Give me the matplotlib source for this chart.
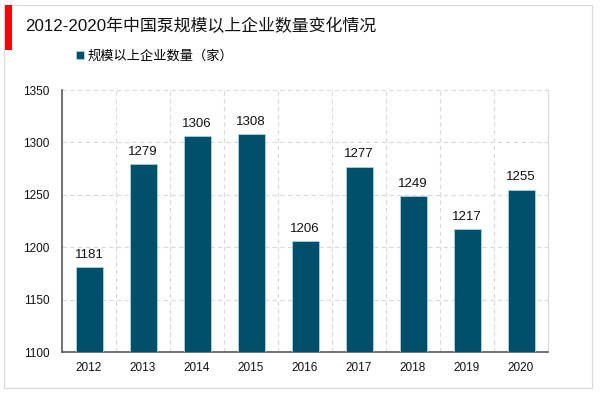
import matplotlib.pyplot as plt
from matplotlib.patches import Rectangle

plt.rcParams['font.family'] = ['Liberation Sans', 'Noto Sans CJK SC', 'DejaVu Sans']

years = ['2012', '2013', '2014', '2015', '2016', '2017', '2018', '2019', '2020']
counts = [1181, 1279, 1306, 1308, 1206, 1277, 1249, 1217, 1255]
title = '2012-2020年中国泵规模以上企业数量变化情况'
series_name = '规模以上企业数量（家）'

fig = plt.figure(figsize=(6, 3.93), dpi=100)
W, H = 600, 393

# outer frame and red accent
fig.patches.append(Rectangle((4 / W, 5 / H), 588 / W, 383 / H, transform=fig.transFigure,
                             fill=False, edgecolor='#d9d9d9', linewidth=0.8))
fig.patches.append(Rectangle((5 / W, 1 - 50 / H), 7 / W, 45 / H, transform=fig.transFigure,
                             facecolor='#ff0000', edgecolor='none'))
fig.text(25 / W, 1 - 26 / H, title, fontsize=12.2, va='center', ha='left', color='#111111',
         family=['Liberation Sans', 'Noto Sans CJK SC'])

ax = fig.add_axes([62 / W, 1 - 352 / H, 486 / W, 262 / H])
x = range(len(years))
bars = ax.bar(x, counts, width=0.5, color='#00506b', edgecolor='#a8d4dc', linewidth=0.6,
              label=series_name, zorder=3)
for i, v in zip(x, counts):
    ax.text(i, v + 6, str(v), ha='center', va='bottom', fontsize=9.5, color='#111111')

ax.set_ylim(1100, 1350)
ax.set_yticks([1100, 1150, 1200, 1250, 1300, 1350])
ax.set_xlim(-0.5, len(years) - 0.5)
ax.set_xticks(list(x))
ax.set_xticklabels(years)
ax.tick_params(axis='both', length=0, labelsize=8.5, colors='#111111')
ax.tick_params(axis='x', pad=7)
ax.tick_params(axis='y', pad=9)

ax.set_axisbelow(True)
ax.grid(axis='y', linestyle=(0, (4, 3)), color='#d9d9d9', linewidth=0.8)
for b in [i + 0.5 for i in range(len(years) - 1)]:
    ax.axvline(b, linestyle=(0, (4, 3)), color='#d9d9d9', linewidth=0.8, zorder=0)

ax.spines['top'].set_visible(False)
ax.spines['right'].set_color('#d9d9d9')
ax.spines['right'].set_linewidth(0.8)
ax.spines['left'].set_color('#595959')
ax.spines['bottom'].set_color('#595959')
ax.spines['left'].set_linewidth(1.2)
ax.spines['bottom'].set_linewidth(1.2)

fig.legend(handles=[bars], labels=[series_name], loc='center left',
           bbox_to_anchor=(64 / W, 1 - 56 / H), frameon=False,
           handlelength=0.6, handleheight=0.6, handletextpad=0.3,
           prop={'family': ['Noto Sans CJK SC'], 'size': 9.5})

fig.savefig('out.png', dpi=100)
